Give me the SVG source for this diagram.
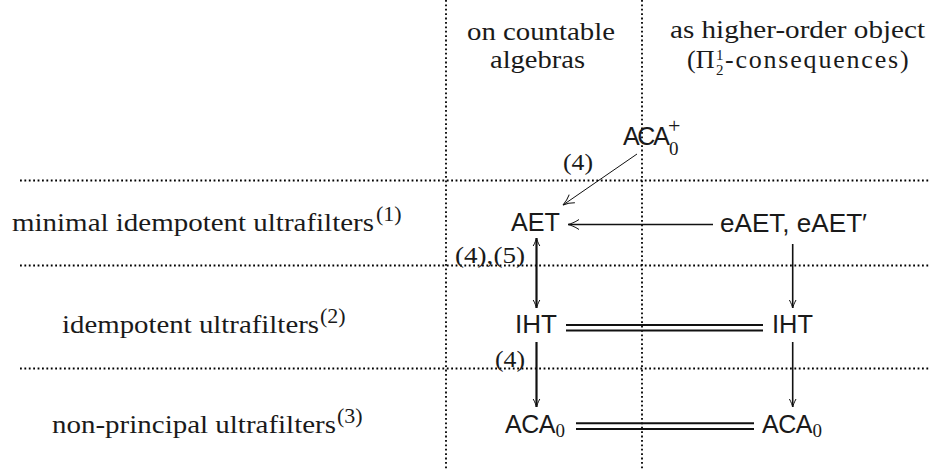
<svg xmlns="http://www.w3.org/2000/svg" width="930" height="470" viewBox="0 0 930 470">
<style>
.grid{stroke:#000;stroke-width:1.8;stroke-dasharray:1.8 2.6;fill:none}
.serif{font-family:"Liberation Serif","Times New Roman",serif;fill:#1a1a1a}
.sans{font-family:"Liberation Sans",Arial,sans-serif;fill:#1a1a1a;font-size:25px}
.tight{letter-spacing:-2.3px}
.norm{letter-spacing:0}
.t26{font-size:26px}
.t24{font-size:24px}
.t22{font-size:22px}
.t18{font-size:19px}
.t15{font-size:15px}
.edge{stroke:#111;fill:none}
</style>
<defs>
<marker id="big" markerUnits="userSpaceOnUse" viewBox="-12 -6 14 12" refX="0" refY="0" markerWidth="14" markerHeight="12" orient="auto-start-reverse">
<path d="M-11,-5 C-7,-2.2 -2.5,-0.6 0,0 C-2.5,0.6 -7,2.2 -11,5" fill="none" stroke="#111" stroke-width="1"/>
</marker>
<marker id="small" markerUnits="userSpaceOnUse" viewBox="-10 -5 12 10" refX="0" refY="0" markerWidth="12" markerHeight="10" orient="auto-start-reverse">
<path d="M-8,-3.3 C-5,-1.6 -2,-0.5 0,0 C-2,0.5 -5,1.6 -8,3.3" fill="none" stroke="#111" stroke-width="1"/>
</marker>
</defs>

<g id="grid">
<line class="grid" x1="446" y1="0" x2="446" y2="470"/>
<line class="grid" x1="642" y1="0" x2="642" y2="470"/>
<line class="grid" x1="20" y1="180.5" x2="930" y2="180.5"/>
<line class="grid" x1="20" y1="265.5" x2="930" y2="265.5"/>
<line class="grid" x1="20" y1="368.5" x2="930" y2="368.5"/>
</g>

<g id="headers">
<text class="serif t26" x="467" y="40" textLength="148" lengthAdjust="spacingAndGlyphs">on countable</text>
<text class="serif t26" x="490" y="68" textLength="95" lengthAdjust="spacingAndGlyphs">algebras</text>
<text class="serif t26" x="670" y="38" textLength="255" lengthAdjust="spacingAndGlyphs">as higher-order object</text>
<text class="serif t26" x="687" y="68">(Π<tspan class="t15" dx="1.5" dy="-8">1</tspan><tspan class="t15" dx="-7.5" dy="15">2</tspan><tspan dx="1.5" dy="-7" style="letter-spacing:1.8px">-consequences)</tspan></text>
</g>

<g id="rows">
<text class="serif t26" x="12" y="231" textLength="362" lengthAdjust="spacingAndGlyphs">minimal idempotent ultrafilters</text>
<text class="serif t22" x="376" y="221">(1)</text>
<text class="serif t26" x="62" y="333" textLength="257" lengthAdjust="spacingAndGlyphs">idempotent ultrafilters</text>
<text class="serif t22" x="320" y="323">(2)</text>
<text class="serif t26" x="52" y="433" textLength="284" lengthAdjust="spacingAndGlyphs">non-principal ultrafilters</text>
<text class="serif t22" x="337" y="423">(3)</text>
</g>

<g id="n-aca0plus">
<text class="sans tight" x="623" y="145">ACA<tspan class="serif t18 norm" dx="1.5" dy="10">0</tspan><tspan class="serif t22 norm" dx="-10.5" dy="-22">+</tspan></text>
</g>
<g id="n-aet">
<text class="sans" x="511" y="231" textLength="49" lengthAdjust="spacingAndGlyphs">AET</text>
</g>
<g id="n-eaet">
<text class="sans" x="720" y="232" textLength="147" lengthAdjust="spacingAndGlyphs">eAET, eAET′</text>
</g>
<g id="n-iht-left">
<text class="sans" x="515" y="333" textLength="42" lengthAdjust="spacingAndGlyphs">IHT</text>
</g>
<g id="n-iht-right">
<text class="sans" x="772" y="333" textLength="41" lengthAdjust="spacingAndGlyphs">IHT</text>
</g>
<g id="n-aca0-left">
<text class="sans" x="505" y="433" style="letter-spacing:-0.5px">ACA<tspan class="serif t18 norm" dx="0.5" dy="4">0</tspan></text>
</g>
<g id="n-aca0-right">
<text class="sans" x="762" y="433" style="letter-spacing:-0.5px">ACA<tspan class="serif t18 norm" dx="0.5" dy="4">0</tspan></text>
</g>

<g id="connectors">
<line class="edge" x1="637" y1="154" x2="563" y2="205" stroke-width="1" marker-end="url(#big)"/>
<line class="edge" x1="713" y1="224.5" x2="568" y2="224.5" stroke-width="1.6" marker-end="url(#big)"/>
<line class="edge" x1="536.5" y1="238" x2="536.5" y2="308" stroke-width="2.2" marker-start="url(#small)" marker-end="url(#small)"/>
<line class="edge" x1="536.5" y1="342" x2="536.5" y2="407" stroke-width="2.2" marker-end="url(#small)"/>
<line class="edge" x1="792.7" y1="244" x2="792.7" y2="308" stroke-width="1.6" marker-end="url(#small)"/>
<line class="edge" x1="792.7" y1="342" x2="792.7" y2="407" stroke-width="1.6" marker-end="url(#small)"/>
<line class="edge" x1="566" y1="325" x2="763" y2="325" stroke-width="2"/>
<line class="edge" x1="566" y1="330.5" x2="763" y2="330.5" stroke-width="2"/>
<line class="edge" x1="576" y1="423.3" x2="754" y2="423.3" stroke-width="2"/>
<line class="edge" x1="576" y1="429" x2="754" y2="429" stroke-width="2"/>
<text class="serif t24" x="563" y="170" textLength="30" lengthAdjust="spacingAndGlyphs">(4)</text>
<text class="serif t24" x="455" y="263" textLength="70" lengthAdjust="spacingAndGlyphs">(4),(5)</text>
<text class="serif t24" x="495" y="367" textLength="30" lengthAdjust="spacingAndGlyphs">(4)</text>
</g>
</svg>
